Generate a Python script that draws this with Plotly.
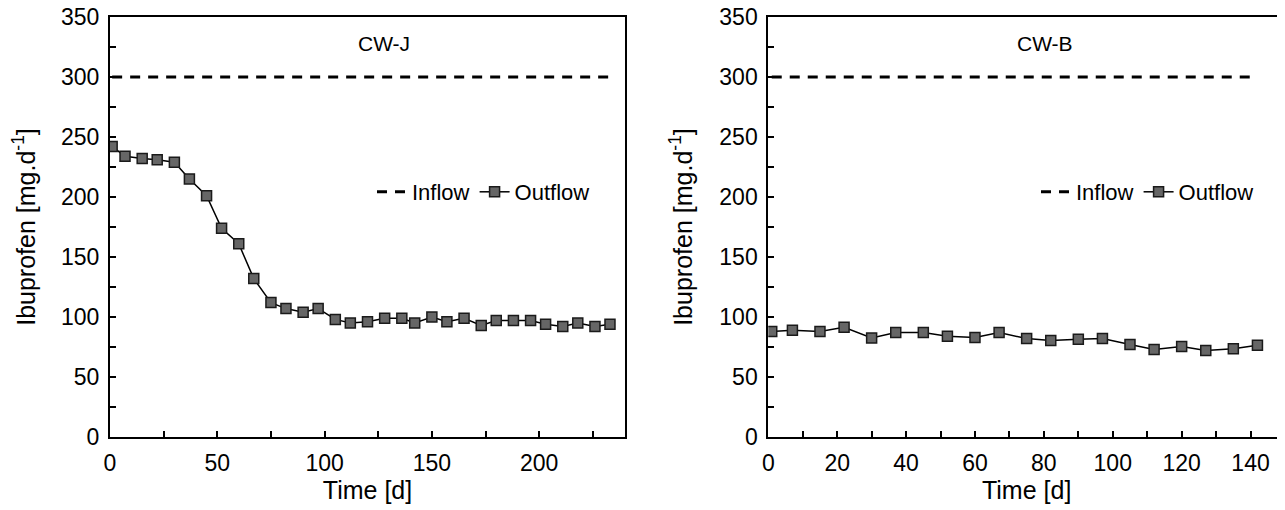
import plotly.graph_objects as go

# CW-J data
cwj_time = [1, 7, 15, 22, 30, 37, 45, 52, 60, 67, 75, 82, 90, 97, 105, 112,
            120, 128, 136, 142, 150, 157, 165, 173, 180, 188, 196, 203, 211, 218, 226, 233]
cwj_outflow = [242, 234, 232, 231, 229, 215, 201, 174, 161, 132, 112, 107, 104, 107, 98, 95,
               96, 99, 99, 95, 100, 96, 99, 93, 97, 97, 97, 94, 92, 95, 92, 94]
cwj_inflow = [300] * len(cwj_time)

# CW-B data
cwb_time = [1, 7, 15, 22, 30, 37, 45, 52, 60, 67, 75, 82, 90, 97, 105, 112, 120, 127, 135, 142]
cwb_outflow = [88, 89, 88, 91.5, 82.5, 87, 87, 84, 83, 87, 82, 80.5, 81.5, 82, 77, 73, 75.5, 72, 73.5, 76.5]
cwb_inflow = [300] * len(cwb_time)

panel_titles = ["CW-J", "CW-B"]
x_title = "Time [d]"
y_title = "Ibuprofen [mg.d<sup>-1</sup>]"

FONT = "Liberation Sans, Arial, sans-serif"
FS_TICK = 23
FS_TITLE = 25
FS_LEG = 22
FS_PANEL = 21

# page has an 8px body margin; figure is sized so that it fits the window exactly
OFF = 8
W, H = 1285 - OFF, 510 - OFF
ML, MR, MT, MB = 110 - OFF, 0, 17 - OFF, H - (437 - OFF)
PW = W - ML - MR
PH = H - MT - MB

fig = go.Figure()

marker = dict(symbol="square", size=10, color="#666666", line=dict(color="#1a1a1a", width=1.5))

fig.add_trace(go.Scatter(x=cwj_time, y=cwj_inflow, mode="lines", name="Inflow",
                         line=dict(color="black", width=3, dash="10px,8px"),
                         xaxis="x", yaxis="y", legend="legend"))
fig.add_trace(go.Scatter(x=cwj_time, y=cwj_outflow, mode="lines+markers", name="Outflow",
                         line=dict(color="black", width=1.5), marker=marker,
                         xaxis="x", yaxis="y", legend="legend"))
fig.add_trace(go.Scatter(x=cwb_time, y=cwb_inflow, mode="lines", name="Inflow",
                         line=dict(color="black", width=3, dash="10px,8px"),
                         xaxis="x2", yaxis="y2", legend="legend2"))
fig.add_trace(go.Scatter(x=cwb_time, y=cwb_outflow, mode="lines+markers", name="Outflow",
                         line=dict(color="black", width=1.5), marker=marker,
                         xaxis="x2", yaxis="y2", legend="legend2"))

def px2paper(px):
    # px is a page pixel position
    return (px - OFF - ML) / PW

def py2paper(py):
    return (H - MB - (py - OFF)) / PH

axis_common = dict(showline=True, linecolor="black", linewidth=2, mirror=True,
                   ticks="inside", ticklen=6, tickwidth=2, tickcolor="black",
                   showgrid=False, zeroline=False, automargin=False,
                   ticklabeloverflow="allow",
                   tickfont=dict(family=FONT, size=FS_TICK, color="black"),
                   title_font=dict(family=FONT, size=FS_TITLE, color="black"))
minor_y = dict(dtick=25, ticks="inside", ticklen=6, tickwidth=2, tickcolor="black")

fig.update_layout(
    width=W, height=H,
    margin=dict(l=ML, r=MR, t=MT, b=MB),
    paper_bgcolor="white", plot_bgcolor="white",
    font=dict(family=FONT, size=FS_TICK, color="black"),
    xaxis=dict(domain=[0, px2paper(625)], range=[0, 240], tickvals=[0, 50, 100, 150, 200],
               minor=dict(dtick=25, ticks="inside", ticklen=6, tickwidth=2, tickcolor="black"),
               title=dict(text=x_title, standoff=4), ticklabelstandoff=4, anchor="y", **axis_common),
    yaxis=dict(domain=[0, 1], range=[0, 350], dtick=50, minor=minor_y,
               title=dict(text=y_title, standoff=20), ticklabelstandoff=4, anchor="x", **axis_common),
    xaxis2=dict(domain=[px2paper(768.3), 1], range=[0, 150], tickvals=[0, 20, 40, 60, 80, 100, 120, 140],
                minor=dict(dtick=10, ticks="inside", ticklen=6, tickwidth=2, tickcolor="black"),
                title=dict(text=x_title, standoff=4), ticklabelstandoff=4, anchor="y2", **axis_common),
    yaxis2=dict(domain=[0, 1], range=[0, 350], dtick=50, minor=minor_y,
                title=dict(text=y_title, standoff=20), ticklabelstandoff=4, anchor="x2", **axis_common),
    legend=dict(orientation="h", x=px2paper(372), y=py2paper(192), xanchor="left", yanchor="middle",
                bgcolor="rgba(0,0,0,0)", font=dict(family=FONT, size=FS_LEG, color="black"),
                itemwidth=30, tracegroupgap=0),
    legend2=dict(orientation="h", x=px2paper(1036), y=py2paper(192), xanchor="left", yanchor="middle",
                 bgcolor="rgba(0,0,0,0)", font=dict(family=FONT, size=FS_LEG, color="black"),
                 itemwidth=30, tracegroupgap=0),
    annotations=[
        dict(text=panel_titles[0], x=127.5, y=328, xref="x", yref="y", showarrow=False,
             font=dict(family=FONT, size=FS_PANEL, color="black")),
        dict(text=panel_titles[1], x=80.2, y=328, xref="x2", yref="y2", showarrow=False,
             font=dict(family=FONT, size=FS_PANEL, color="black")),
    ],
)

fig.write_html("out.html")
